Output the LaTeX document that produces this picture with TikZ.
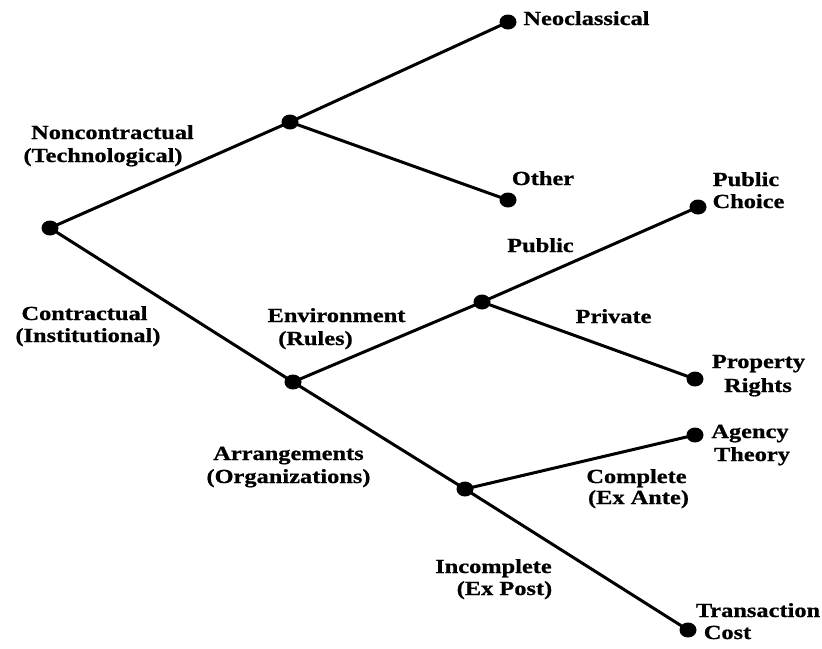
\documentclass[tikz,border=0pt]{standalone}
\usepackage{fontspec}
\setmainfont{Liberation Serif}[FakeStretch=1.22,BoldFeatures={FakeBold=0.8}]
\usetikzlibrary{shapes.geometric}
\begin{document}
\begin{tikzpicture}[x=1pt,y=-1pt,
  branch/.style={line width=3pt},
  dot/.style={ellipse,fill=black,inner sep=0pt,minimum width=17pt,minimum height=15pt},
  lbl/.style={font=\fontsize{20}{22}\selectfont\bfseries,inner sep=0pt,anchor=base}]
\useasboundingbox (0,0) rectangle (822,648);

% tree vertices
\node[dot] (root) at (50,228) {};
\node[dot] (nc)   at (290,122) {};
\node[dot] (neo)  at (508,22) {};
\node[dot] (oth)  at (508,200) {};
\node[dot] (ct)   at (293,382) {};
\node[dot] (env)  at (482,302) {};
\node[dot] (pch)  at (698,207) {};
\node[dot] (prr)  at (695,379) {};
\node[dot] (arr)  at (465,489) {};
\node[dot] (agt)  at (695,435) {};
\node[dot] (trc)  at (688,630) {};

% branches
\draw[branch] (root.center) -- (nc.center);
\draw[branch] (nc.center) -- (neo.center);
\draw[branch] (nc.center) -- (oth.center);
\draw[branch] (root.center) -- (ct.center);
\draw[branch] (ct.center) -- (env.center);
\draw[branch] (env.center) -- (pch.center);
\draw[branch] (env.center) -- (prr.center);
\draw[branch] (ct.center) -- (arr.center);
\draw[branch] (arr.center) -- (agt.center);
\draw[branch] (arr.center) -- (trc.center);

% labels
\node[lbl] (tNeo)  at (586.5,25)  {Neoclassical};
\node[lbl] (tNcA)  at (112.5,139) {Noncontractual};
\node[lbl] (tNcB)  at (103,162)   {(Technological)};
\node[lbl] (tOth)  at (543,185)   {Other};
\node[lbl] (tPcA)  at (746,186)   {Public};
\node[lbl] (tPcB)  at (748.5,208) {Choice};
\node[lbl] (tPub)  at (540.5,252) {Public};
\node[lbl] (tEnvA) at (336.5,322) {Environment};
\node[lbl] (tEnvB) at (315.5,345) {(Rules)};
\node[lbl] (tPriv) at (613.5,323) {Private};
\node[lbl] (tCtA)  at (84.5,320)  {Contractual};
\node[lbl] (tCtB)  at (88,342)    {(Institutional)};
\node[lbl] (tPrA)  at (758.5,368) {Property};
\node[lbl] (tPrB)  at (758,392)   {Rights};
\node[lbl] (tArA)  at (288.5,460) {Arrangements};
\node[lbl] (tArB)  at (288.5,483) {(Organizations)};
\node[lbl] (tAgA)  at (750,438)   {Agency};
\node[lbl] (tAgB)  at (752,461)   {Theory};
\node[lbl] (tCoA)  at (636.5,483) {Complete};
\node[lbl] (tCoB)  at (638.5,504) {(Ex Ante)};
\node[lbl] (tInA)  at (493.5,573) {Incomplete};
\node[lbl] (tInB)  at (504.5,595) {(Ex Post)};
\node[lbl] (tTrA)  at (758,617)   {Transaction};
\node[lbl] (tTrB)  at (727.5,639) {Cost};
\end{tikzpicture}
\end{document}
